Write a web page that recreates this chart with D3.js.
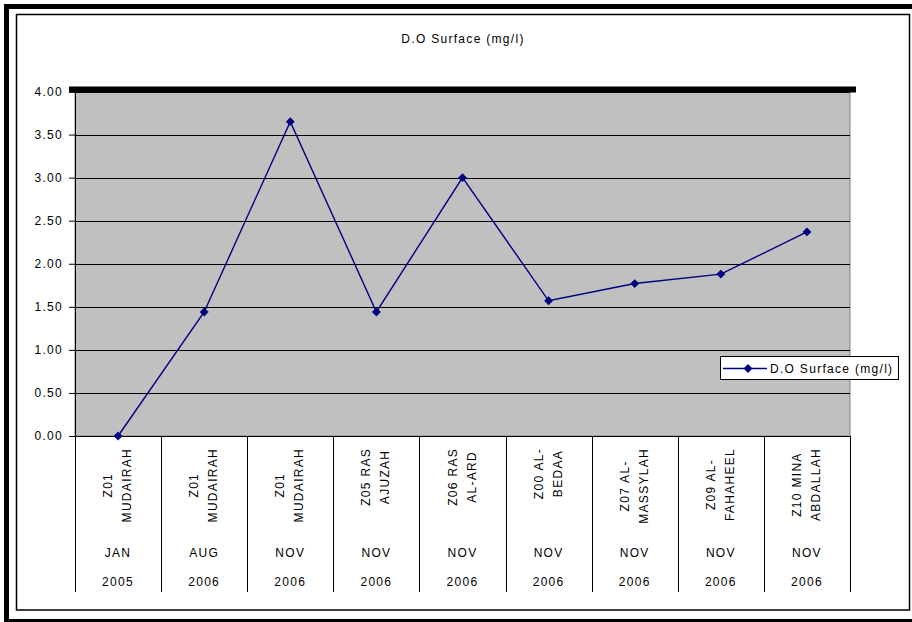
<!DOCTYPE html>
<html>
    <head>
        <script src="https://d3js.org/d3.v7.min.js"></script>
        <style>
            body { margin: 0; background: #fff; }
            text { font-family: "Liberation Sans", Arial, sans-serif; font-size: 12px; letter-spacing: 1.3px; fill: #000; }
        </style>
    </head>
    <body>
        <div id="chart"></div>
    </body>
    <script>
        // data
        var siteTop = ["Z01", "Z01", "Z01", "Z05 RAS", "Z06 RAS", "Z00 AL-", "Z07 AL-", "Z09 AL-", "Z10 MINA"];
        var siteBottom = ["MUDAIRAH", "MUDAIRAH", "MUDAIRAH", "AJUZAH", "AL-ARD", "BEDAA", "MASSYLAH", "FAHAHEEL", "ABDALLAH"];
        var months = ["JAN", "AUG", "NOV", "NOV", "NOV", "NOV", "NOV", "NOV", "NOV"];
        var years = ["2005", "2006", "2006", "2006", "2006", "2006", "2006", "2006", "2006"];
        var doValues = [0.00, 1.44, 3.65, 1.44, 3.00, 1.57, 1.77, 1.88, 2.37];
        var yTicks = [0, 0.5, 1, 1.5, 2, 2.5, 3, 3.5, 4];
        var yTickLabels = ["0.00", "0.50", "1.00", "1.50", "2.00", "2.50", "3.00", "3.50", "4.00"];
        var seriesName = "D.O Surface (mg/l)";
        var title = "D.O Surface (mg/l)";

        var W = 912, H = 622;
        var plotL = 75, plotR = 850, plotT = 91.5, plotB = 436;

        var svg = d3.select("#chart").append("svg")
            .attr("width", W)
            .attr("height", H);

        // frames
        svg.append("rect")
            .attr("x", 6.5).attr("y", 6.5)
            .attr("width", 915).attr("height", 615)
            .attr("fill", "#fff")
            .attr("stroke", "#000").attr("stroke-width", 5);
        svg.append("rect")
            .attr("x", 16.5).attr("y", 14.5)
            .attr("width", 893).attr("height", 595.5)
            .attr("fill", "#fff")
            .attr("stroke", "#000").attr("stroke-width", 1.5);

        svg.append("text")
            .attr("x", 463).attr("y", 43)
            .attr("text-anchor", "middle")
            .text(title);

        var x = d3.scaleBand().domain(d3.range(doValues.length)).range([plotL, plotR]).padding(0);
        var y = d3.scaleLinear().domain([0, 4]).range([plotB, plotT]);

        // plot area
        svg.append("rect")
            .attr("x", plotL).attr("y", plotT)
            .attr("width", plotR - plotL).attr("height", plotB - plotT)
            .attr("fill", "#c0c0c0")
            .attr("stroke", "#808080").attr("stroke-width", 1);

        // gridlines
        svg.append("g")
            .selectAll("line")
            .data(yTicks)
            .enter().append("line")
                .attr("x1", plotL).attr("x2", plotR)
                .attr("y1", function(d) { return Math.round(y(d)) + 0.5; })
                .attr("y2", function(d) { return Math.round(y(d)) + 0.5; })
                .attr("stroke", "#000").attr("stroke-width", 1);

        // y axis
        var yAxis = d3.axisLeft(y)
            .tickValues(yTicks)
            .tickSize(6)
            .tickPadding(6)
            .tickFormat(function(d, i) { return yTickLabels[i]; });
        var yg = svg.append("g")
            .attr("transform", "translate(" + plotL + ",0)")
            .call(yAxis);
        yg.select(".domain").attr("stroke", "#000");
        yg.selectAll("line").attr("stroke", "#000");
        yg.selectAll("text")
            .style("font-family", "'Liberation Sans', Arial, sans-serif")
            .style("font-size", "12px")
            .attr("fill", "#000");

        // thick top line
        svg.append("line")
            .attr("x1", plotL - 6).attr("x2", plotR + 6)
            .attr("y1", y(4) - 2).attr("y2", y(4) - 2)
            .attr("stroke", "#000").attr("stroke-width", 6);

        // category table dividers
        var dividers = d3.range(doValues.length + 1).map(function(i) { return i < doValues.length ? x(i) : plotR; });
        svg.append("g")
            .selectAll("line")
            .data(dividers)
            .enter().append("line")
                .attr("x1", function(d) { return Math.round(d) + 0.5; })
                .attr("x2", function(d) { return Math.round(d) + 0.5; })
                .attr("y1", plotB).attr("y2", 592)
                .attr("stroke", "#000").attr("stroke-width", 1);

        // category labels
        var cats = svg.append("g").selectAll("g")
            .data(doValues)
            .enter().append("g");

        cats.each(function(d, i) {
            var g = d3.select(this);
            var cx = x(i) + x.bandwidth() / 2;
            var t1 = g.append("text").attr("text-anchor", "middle").text(siteTop[i]);
            var t2 = g.append("text").attr("text-anchor", "middle").text(siteBottom[i]);
            var len = Math.max(t1.node().getComputedTextLength(), t2.node().getComputedTextLength());
            var cy = 448 + len / 2;
            t1.attr("transform", "translate(" + (cx - 6) + "," + cy + ") rotate(-90)");
            t2.attr("transform", "translate(" + (cx + 13) + "," + cy + ") rotate(-90)");
            g.append("text").attr("text-anchor", "middle")
                .attr("x", cx).attr("y", 557).text(months[i]);
            g.append("text").attr("text-anchor", "middle")
                .attr("x", cx).attr("y", 586).text(years[i]);
        });

        // series
        var line = d3.line()
            .x(function(d, i) { return x(i) + x.bandwidth() / 2; })
            .y(function(d) { return y(d); });

        svg.append("path")
            .attr("d", line(doValues))
            .attr("fill", "none")
            .attr("stroke", "#000080")
            .attr("stroke-width", 1.4);

        var diamond = d3.symbol().type(d3.symbolDiamond2).size(50);
        svg.append("g")
            .selectAll("path")
            .data(doValues)
            .enter().append("path")
                .attr("d", diamond)
                .attr("transform", function(d, i) { return "translate(" + (x(i) + x.bandwidth() / 2) + "," + y(d) + ")"; })
                .attr("fill", "#000080");

        // legend
        var lg = svg.append("g").attr("transform", "translate(720,356)");
        lg.append("rect")
            .attr("x", 0.5).attr("y", 0.5)
            .attr("width", 178).attr("height", 23)
            .attr("fill", "#fff")
            .attr("stroke", "#000").attr("stroke-width", 1);
        lg.append("line")
            .attr("x1", 3).attr("x2", 47)
            .attr("y1", 12.5).attr("y2", 12.5)
            .attr("stroke", "#000080").attr("stroke-width", 1.4);
        lg.append("path")
            .attr("d", diamond)
            .attr("transform", "translate(28,12.5)")
            .attr("fill", "#000080");
        lg.append("text")
            .attr("x", 50).attr("y", 17)
            .text(seriesName);
    </script>
</html>
